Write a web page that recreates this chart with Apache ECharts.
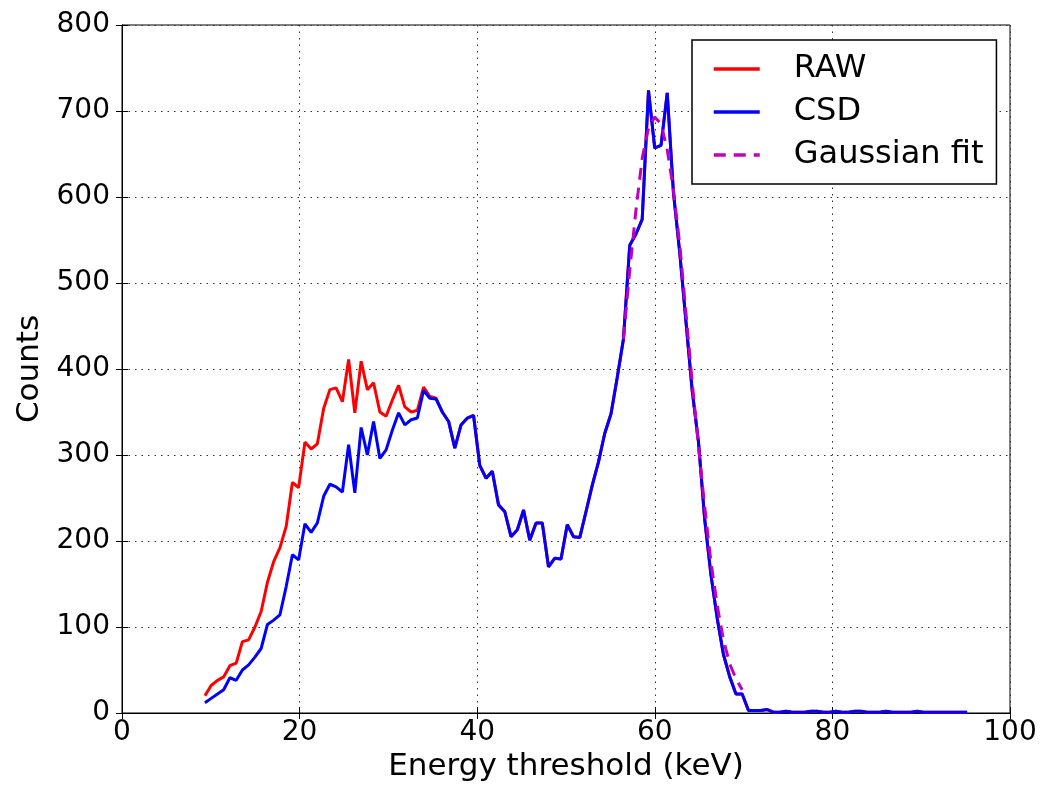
<!DOCTYPE html>
<html>
<head>
<meta charset="utf-8">
<script src="https://cdn.jsdelivr.net/npm/echarts@6/dist/echarts.min.js"></script>
<style>
html,body{margin:0;padding:0;background:#fff;}
#chart{width:1043px;height:789px;}
</style>
</head>
<body>
<div id="chart"></div>
<script>
// Energy threshold (keV) of each sample
const energy = [
  9.34, 10.04, 10.75, 11.45, 12.15, 12.86, 13.56, 14.26, 14.97, 15.67,
  16.38, 17.08, 17.78, 18.49, 19.19, 19.89, 20.60, 21.30, 22.00, 22.71,
  23.41, 24.11, 24.82, 25.52, 26.22, 26.93, 27.63, 28.33, 29.04, 29.74,
  30.45, 31.15, 31.85, 32.56, 33.26, 33.96, 34.67, 35.37, 36.07, 36.78,
  37.48, 38.18, 38.89, 39.59, 40.29, 41.00, 41.70, 42.40, 43.11, 43.81,
  44.52, 45.22, 45.92, 46.63, 47.33, 48.03, 48.74, 49.44, 50.14, 50.85,
  51.55, 52.25, 52.96, 53.66, 54.36, 55.07, 55.77, 56.47, 57.18, 57.88,
  58.58, 59.29, 59.99, 60.70, 61.40, 62.10, 62.81, 63.51, 64.21, 64.92,
  65.62, 66.33, 67.03, 67.73, 68.44, 69.14, 69.84, 70.55, 71.25, 71.95,
  72.66, 73.36, 74.06, 74.77, 75.47, 76.17, 76.88, 77.58, 78.28, 78.99,
  79.69, 80.40, 81.10, 81.80, 82.51, 83.21, 83.91, 84.62, 85.32, 86.02,
  86.73, 87.43, 88.13, 88.84, 89.54, 90.24, 90.95, 91.65, 92.35, 93.06,
  93.76, 94.46, 95.17
];

const csd = [
  12, 17, 22, 27, 41, 38, 50, 56, 65, 75,
  103, 108, 114, 147, 184, 178, 220, 210, 221, 252,
  266, 263, 257, 312, 256, 332, 300, 339, 296, 306,
  329, 349, 335, 341, 343, 375, 366, 365, 350, 339,
  308, 335, 343, 346, 288, 273, 281, 242, 234, 205,
  213, 236, 201, 221, 221, 170, 180, 179, 219, 205,
  204, 234, 265, 292, 325, 348, 390, 435, 544, 557,
  574, 724, 657, 660, 721, 605, 535, 455, 375, 315,
  225, 160, 110, 68, 42, 22, 22, 3, 3, 3,
  4, 1, 1, 2, 1, 1, 1, 2, 2, 1,
  1, 2, 1, 1, 2, 2, 1, 1, 1, 2,
  1, 1, 1, 1, 2, 1, 1, 1, 1, 1,
  1, 1, 1
];

const raw = [
  20, 32, 38, 42, 55, 58, 83, 85, 100, 118,
  152, 176, 192, 217, 268, 262, 315, 307, 313, 354,
  376, 378, 362, 411, 349, 409, 376, 384, 350, 345,
  364, 381, 356, 350, 352, 379, 368, 366, 350, 339,
  308, 335, 343, 346, 288, 273, 281, 242, 234, 205,
  213, 236, 201, 221, 221, 170, 180, 179, 219, 205,
  204, 234, 265, 292, 325, 348, 390, 435, 544, 557,
  574, 724, 657, 660, 721, 605, 535, 455, 375, 315,
  225, 160, 110, 68, 42, 22, 22, 3, 3, 3,
  4, 1, 1, 2, 1, 1, 1, 2, 2, 1,
  1, 2, 1, 1, 2, 2, 1, 1, 1, 2,
  1, 1, 1, 1, 2, 1, 1, 1, 1, 1,
  1, 1, 1
];

const fitEnergy = [
  56.47, 57.18, 57.88, 58.58, 59.29, 59.99, 60.70, 61.40, 62.10, 62.81,
  63.51, 64.21, 64.92, 65.62, 66.33, 67.03, 67.73, 68.44, 69.14, 69.84
];
const fit = [
  435, 515, 585, 645, 680, 693, 685, 655, 608, 545,
  465, 385, 310, 240, 175, 125, 85, 57, 40, 27
];

const xTicks = [0, 20, 40, 60, 80, 100];
const yTicks = [0, 100, 200, 300, 400, 500, 600, 700, 800];

const pair = (xs, ys) => xs.map((x, i) => [x, ys[i]]);

const FONT = 'DejaVu Sans';
const chart = echarts.init(document.getElementById('chart'), null, {renderer: 'canvas'});

const gridLine = {show: true, lineStyle: {color: '#333', width: 1, type: [1.5, 5]}};
const tickIn = {show: true, inside: true, length: 6, lineStyle: {color: '#000', width: 1}};
const axisLineBlack = {show: true, lineStyle: {color: '#000', width: 1}};

chart.setOption({
  animation: false,
  backgroundColor: '#fff',
  textStyle: {fontFamily: FONT},
  grid: {left: 122, right: 33, top: 25, bottom: 76, show: true, borderColor: '#000', borderWidth: 1},
  legend: {
    orient: 'vertical',
    left: 692, top: 40,
    padding: [13, 13, 13, 20],
    itemGap: 11,
    itemWidth: 46, itemHeight: 14,
    borderColor: '#000', borderWidth: 1.5, borderRadius: 0,
    backgroundColor: '#fff',
    itemStyle: {opacity: 0},
    lineStyle: {width: 3.5},
    textStyle: {fontFamily: FONT, fontSize: 32, color: '#000', padding: [0, 0, 0, 29], lineHeight: 32},
    data: ['RAW', 'CSD', 'Gaussian fit']
  },
  xAxis: [{
    type: 'value', min: 0, max: 100, interval: 20,
    axisLine: axisLineBlack, axisTick: tickIn, splitLine: gridLine,
    axisLabel: {fontFamily: FONT, fontSize: 28, color: '#000', margin: 6,
      formatter: v => xTicks.includes(v) ? String(v) : ''},
    name: 'Energy threshold (keV)', nameLocation: 'middle', nameGap: 38,
    nameTextStyle: {fontFamily: FONT, fontSize: 31, color: '#000'}
  }, {
    type: 'value', min: 0, max: 100, interval: 20, position: 'top',
    axisLine: axisLineBlack, axisTick: tickIn, splitLine: {show: false}, axisLabel: {show: false}
  }],
  yAxis: [{
    type: 'value', min: 0, max: 800, interval: 100,
    axisLine: axisLineBlack, axisTick: tickIn, splitLine: gridLine,
    axisLabel: {fontFamily: FONT, fontSize: 28, color: '#000', margin: 12,
      formatter: v => yTicks.includes(v) ? String(v) : ''},
    name: 'Counts', nameLocation: 'middle', nameGap: 76, nameRotate: 90,
    nameTextStyle: {fontFamily: FONT, fontSize: 31, color: '#000'}
  }, {
    type: 'value', min: 0, max: 800, interval: 100, position: 'right',
    axisLine: axisLineBlack, axisTick: tickIn, splitLine: {show: false}, axisLabel: {show: false}
  }],
  series: [{
    name: 'RAW', type: 'line', data: pair(energy, raw),
    symbol: 'none', showSymbol: false, z: 2,
    lineStyle: {color: '#ff0000', width: 3}, itemStyle: {color: '#ff0000'}
  }, {
    name: 'CSD', type: 'line', data: pair(energy, csd),
    symbol: 'none', showSymbol: false, z: 3,
    lineStyle: {color: '#0000ff', width: 3}, itemStyle: {color: '#0000ff'}
  }, {
    name: 'Gaussian fit', type: 'line', data: pair(fitEnergy, fit),
    symbol: 'none', showSymbol: false, z: 4,
    lineStyle: {color: '#bf00bf', width: 3, type: [12, 8]}, itemStyle: {color: '#bf00bf'}
  }]
});
</script>
</body>
</html>
